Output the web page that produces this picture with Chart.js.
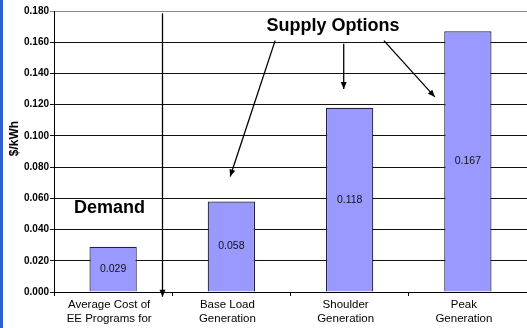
<!DOCTYPE html>
<html>
<head>
<meta charset="utf-8">
<script src="https://cdn.jsdelivr.net/npm/chart.js@4"></script>
<style>
html,body{margin:0;padding:0;background:#fff;}
#wrap{width:527px;height:328px;position:relative;}
</style>
</head>
<body>
<div id="wrap"><canvas id="chart" width="527" height="328"></canvas></div>
<script>
const categories = [
["Average Cost of","EE Programs for"],
["Base Load","Generation"],
["Shoulder","Generation"],
["Peak","Generation"]
];
const costs = [0.029, 0.058, 0.118, 0.167];
const yTicks = [0, 0.02, 0.04, 0.06, 0.08, 0.1, 0.12, 0.14, 0.16, 0.18];

// annotations in chart units (x = category index, y = $/kWh)
const divider = { x: 0.41, y0: 0.1785, y1: -0.003 };
const arrows = [
{ x0: 1.37, y0: 0.161, x1: 0.99, y1: 0.074 },
{ x0: 1.95, y0: 0.159, x1: 1.95, y1: 0.130 },
{ x0: 2.29, y0: 0.161, x1: 2.72, y1: 0.125 }
];
const notes = [
{ text: "Supply Options", x: 1.86, y: 0.1705 },
{ text: "Demand", x: -0.03, y: 0.0535 }
];

const FONT = "'Liberation Sans', Arial, sans-serif";

function px(chart, xv, yv){
const xs = chart.scales.x, ys = chart.scales.y;
const c0 = xs.getPixelForValue(0), c1 = xs.getPixelForValue(1);
return [c0 + (c1 - c0) * xv, ys.getPixelForValue(yv)];
}

function arrow(ctx, x0, y0, x1, y1){
ctx.beginPath();
ctx.moveTo(x0, y0);
ctx.lineTo(x1, y1);
ctx.stroke();
const a = Math.atan2(y1 - y0, x1 - x0);
const len = 7, w = 3;
ctx.beginPath();
ctx.moveTo(x1, y1);
ctx.lineTo(x1 - len*Math.cos(a) + w*Math.sin(a), y1 - len*Math.sin(a) - w*Math.cos(a));
ctx.lineTo(x1 - len*Math.cos(a) - w*Math.sin(a), y1 - len*Math.sin(a) + w*Math.cos(a));
ctx.closePath();
ctx.fill();
}

const frame = {
id: "frame",
beforeDraw(chart){
const ctx = chart.ctx;
ctx.save();
ctx.fillStyle = "#fff";
ctx.fillRect(0, 0, chart.width, chart.height);
ctx.fillStyle = "#2f5fd0";
ctx.fillRect(0, 0, 3, chart.height);
ctx.restore();
},
afterDraw(chart){
const ctx = chart.ctx;
const area = chart.chartArea;
ctx.save();
// y title
ctx.translate(15, (area.top + area.bottom) / 2 - 13);
ctx.rotate(-Math.PI / 2);
ctx.font = "bold 12px " + FONT;
ctx.fillStyle = "#000";
ctx.textAlign = "center";
ctx.textBaseline = "middle";
ctx.fillText("$/kWh", 0, 0);
ctx.restore();

// value labels inside bars
ctx.save();
ctx.font = "10.5px " + FONT;
ctx.fillStyle = "#111";
ctx.textAlign = "center";
ctx.textBaseline = "middle";
chart.getDatasetMeta(0).data.forEach((bar, i) => {
ctx.fillText(costs[i].toFixed(3), bar.x, (bar.y + bar.base) / 2);
});
ctx.restore();

// divider and arrows
ctx.save();
ctx.strokeStyle = "#000";
ctx.fillStyle = "#000";
ctx.lineWidth = 1.3;
const d0 = px(chart, divider.x, divider.y0), d1 = px(chart, divider.x, divider.y1);
arrow(ctx, Math.round(d0[0]) + 0.5, d0[1], Math.round(d1[0]) + 0.5, d1[1]);
arrows.forEach(a => {
const p0 = px(chart, a.x0, a.y0), p1 = px(chart, a.x1, a.y1);
arrow(ctx, p0[0], p0[1], p1[0], p1[1]);
});
ctx.font = "bold 18px " + FONT;
ctx.textAlign = "center";
ctx.textBaseline = "middle";
notes.forEach(n => {
const p = px(chart, n.x, n.y);
ctx.fillText(n.text, p[0], p[1]);
});
ctx.restore();
}
};

const ctx = document.getElementById("chart");

const costChart = new Chart(ctx, {
type: "bar",
data: {
labels: categories,
datasets: [{
data: costs,
backgroundColor: "#9999ff",
borderColor: "#222244",
borderWidth: 1.2,
borderSkipped: "bottom",
categoryPercentage: 1,
barPercentage: 0.4
}]
},
options: {
responsive: false,
animation: false,
devicePixelRatio: 1,
layout: { padding: { top: 11, right: -3, bottom: 0, left: 0 } },
plugins: { legend: { display: false }, tooltip: { enabled: false } },
scales: {
x: {
offset: true,
grid: { display: true, offset: true, drawOnChartArea: false, color: "#000", tickLength: 4 },
border: { display: true, color: "#000", width: 1 },
ticks: { color: "#000", font: { family: FONT, size: 11.5 }, padding: 2, labelOffset: -4, maxRotation: 0, autoSkip: false },
afterFit(s){ s.height = 36; }
},
y: {
min: 0,
max: 0.18,
afterBuildTicks(s){ s.ticks = yTicks.map(v => ({ value: v })); },
grid: {
color: ctx => ctx.tick && ctx.tick.value === 0.18 ? "#888" : "#111",
tickLength: 4,
lineWidth: 1
},
border: { display: true, color: "#000", width: 1 },
ticks: {
color: "#000",
font: { family: FONT, size: 10, weight: "bold" },
padding: 1,
callback: v => Number(v).toFixed(3)
},
afterFit(s){ s.width = 54; }
}
}
},
plugins: [frame]
});
</script>
</body>
</html>
